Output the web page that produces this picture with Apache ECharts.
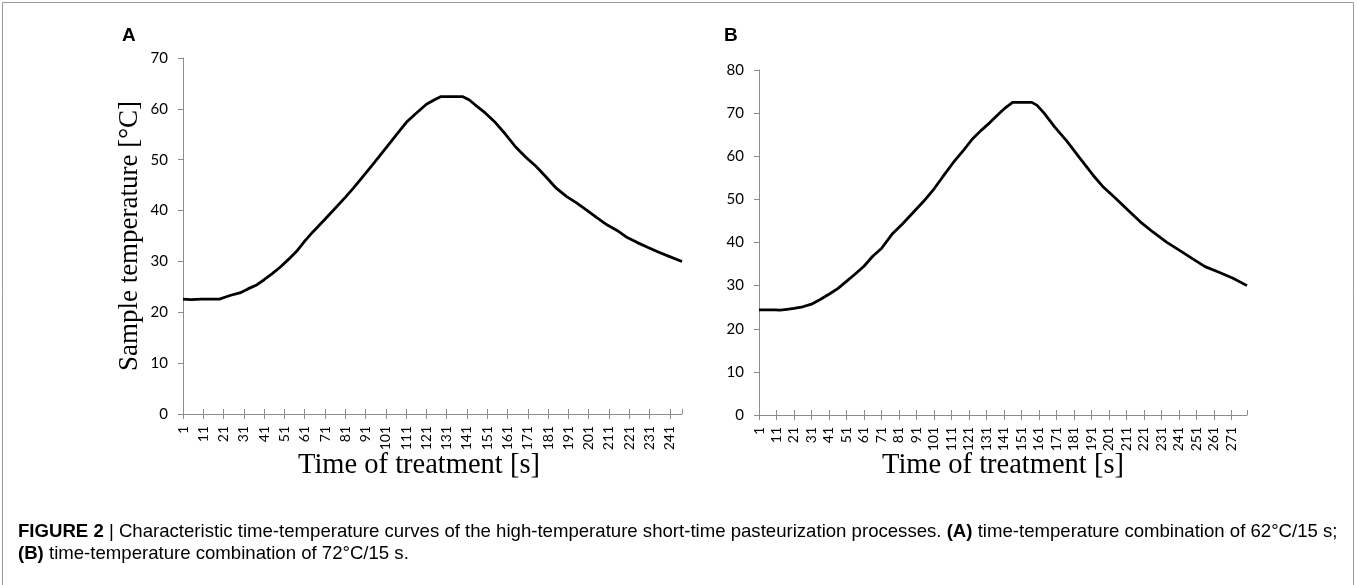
<!DOCTYPE html>
<html>
<head>
<meta charset="utf-8">
<script src="https://cdn.jsdelivr.net/npm/echarts@6/dist/echarts.min.js"></script>
<style>
html,body{margin:0;padding:0;background:#fff;}
#chart{width:1357px;height:585px;}
</style>
</head>
<body>
<div id="chart"></div>
<script>
// Panel A (62 °C / 15 s): time [s] and sample temperature [°C]
const timeA = [1,5,10,15,19,22,25,29,33,37,41,45,49,53,57,61,65,71,75,81,85,91,95,101,105,111,115,121,125,128,139,142,145,150,155,160,165,170,175,180,185,190,195,200,205,210,215,220,225,230,235,240,247];
const tempA = [22.6,22.5,22.6,22.6,22.6,23.0,23.4,23.8,24.6,25.3,26.4,27.6,28.9,30.4,32.0,34.0,35.8,38.3,40.0,42.6,44.4,47.3,49.3,52.3,54.3,57.3,58.8,60.9,61.8,62.4,62.4,61.8,60.8,59.2,57.3,55.0,52.5,50.5,48.7,46.6,44.4,42.8,41.5,40.1,38.6,37.2,36.1,34.7,33.7,32.8,31.9,31.1,30.0];
// Panel B (72 °C / 15 s)
const timeB = [1,10,13,17,21,26,31,36,41,46,51,56,61,66,71,77,83,89,95,101,106,112,118,123,128,133,138,142,146,157,160,164,170,177,184,192,198,205,212,219,226,234,241,249,256,264,272,280];
const tempB = [24.4,24.4,24.3,24.5,24.7,25.1,25.7,26.8,28.0,29.3,31.0,32.7,34.5,36.8,38.6,41.9,44.3,46.9,49.5,52.4,55.2,58.5,61.4,64.0,66.0,67.8,69.8,71.3,72.5,72.5,71.8,70.0,66.8,63.5,59.8,55.6,52.8,50.2,47.5,44.8,42.5,40.1,38.3,36.2,34.4,33.1,31.7,30.0];
// axis ranges
const xRangeA = [1, 247];
const xRangeB = [1, 280];
const yMaxA = 70, yMaxB = 80;
const yTitle = 'Sample temperature [°C]';
const xTitle = 'Time of treatment [s]';
const panelLabels = ['A', 'B'];

const AX = '#8c8c8c';
const LAB = 'Lato';
function pairs(t, v){ return t.map((x,i)=>[x, v[i]]); }

function xAxes(gi, range){
  return [{
    type:'value', gridIndex:gi, min:range[0], max:range[1], interval:10, position:'bottom',
    axisLine:{show:true, lineStyle:{color:AX, width:1}},
    axisTick:{show:true, inside:false, length:5, lineStyle:{color:AX}},
    axisLabel:{rotate:90, margin:12, fontFamily:LAB, fontSize:14, color:'#000', showMaxLabel:false},
    splitLine:{show:false}
  },{
    type:'value', gridIndex:gi, min:range[0], max:range[1], interval:10, position:'bottom',
    axisLine:{show:false},
    axisTick:{show:true, inside:true, length:5, lineStyle:{color:AX}},
    axisLabel:{show:false}, splitLine:{show:false}
  }];
}
function yAxis(gi, max, name){
  return {
    type:'value', gridIndex:gi, min:0, max:max, interval:10,
    name:name, nameLocation:'middle', nameGap:40, nameRotate:90,
    nameTextStyle:{fontFamily:'Liberation Serif', fontSize:27, color:'#000'},
    axisLine:{show:true, lineStyle:{color:AX, width:1}},
    axisTick:{show:true, inside:false, length:5, lineStyle:{color:AX}},
    axisLabel:{margin:15, fontFamily:LAB, fontSize:15, color:'#000'},
    splitLine:{show:false}
  };
}

const chart = echarts.init(document.getElementById('chart'), null, {renderer:'canvas'});
chart.setOption({
  animation:false,
  backgroundColor:'#fff',
  grid:[
    {left:183, top:58, width:499, height:356},
    {left:759, top:70, width:488, height:345}
  ],
  xAxis:[].concat(xAxes(0, xRangeA), xAxes(1, xRangeB)),
  yAxis:[yAxis(0, yMaxA, yTitle), yAxis(1, yMaxB, '')],
  series:[
    {type:'line', xAxisIndex:0, yAxisIndex:0, data:pairs(timeA, tempA), showSymbol:false,
     lineStyle:{color:'#000', width:2.8}, itemStyle:{color:'#000'}},
    {type:'line', xAxisIndex:2, yAxisIndex:1, data:pairs(timeB, tempB), showSymbol:false,
     lineStyle:{color:'#000', width:2.8}, itemStyle:{color:'#000'}}
  ],
  graphic:[
    {type:'rect', shape:{x:2.5, y:2.5, width:1351, height:620}, style:{fill:'none', stroke:'#9a9a9a', lineWidth:1}, silent:true},
    {type:'text', left:122, top:26, style:{text:panelLabels[0], font:'bold 19px "Liberation Sans"', fill:'#000'}},
    {type:'text', left:724, top:26, style:{text:panelLabels[1], font:'bold 19px "Liberation Sans"', fill:'#000'}},
    {type:'text', x:419, y:466, style:{text:xTitle, font:'28.5px "Liberation Serif"', fill:'#000', align:'center', verticalAlign:'middle'}},
    {type:'text', x:1003, y:466, style:{text:xTitle, font:'28.5px "Liberation Serif"', fill:'#000', align:'center', verticalAlign:'middle'}},
    {type:'text', left:18, top:522, style:{
      rich:{
        b:{fontFamily:'Liberation Sans', fontWeight:'bold', fontSize:18.6, fill:'#000', lineHeight:22},
        n:{fontFamily:'Liberation Sans', fontSize:18.6, fill:'#000', lineHeight:22}
      },
      text:'{b|FIGURE 2}{n| | Characteristic time-temperature curves of the high-temperature short-time pasteurization processes. }{b|(A)}{n| time-temperature combination of 62°C/15 s;}\n{b|(B)}{n| time-temperature combination of 72°C/15 s.}'
    }}
  ]
});
</script>
</body>
</html>
